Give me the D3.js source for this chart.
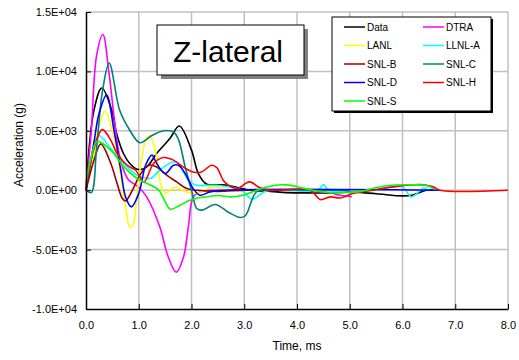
<!DOCTYPE html>
<html><head><meta charset="utf-8">
<script src="https://cdn.jsdelivr.net/npm/d3@7"></script>
<style>body{margin:0;background:#fff}svg{display:block}</style>
</head><body>
<svg id="chart" width="519" height="360"></svg>
<script>
// ---- data (time in ms, acceleration in g) ----
const seriesNames = ["Data","DTRA","LANL","LLNL-A","SNL-B","SNL-C","SNL-D","SNL-H","SNL-S"];
const seriesColors = ["#000000","#ff00ff","#ffff00","#00ffff","#990000","#008080","#0000ff","#ff0000","#00ff00"];

const dataTime  = [0,0.15,0.3,0.49,0.58,0.71,0.83,0.99,1.15,1.34,1.59,1.77,2.0,2.13,2.29,2.6,2.9,3.1,3.5,3.8,4.3,4.6,5.0,5.5,6.0,6.2,6.45,6.6];
const dataAccel = [0,6700,8600,6700,4770,3090,2250,1740,1960,3090,4350,5400,3370,1400,500,450,200,0,-100,-200,-230,-230,-150,-300,-480,-400,0,0];

const dtraTime  = [0,0.1,0.2,0.32,0.44,0.55,0.65,0.8,1.0,1.15,1.4,1.55,1.71,1.85,1.94,2.03,2.16,2.4,3.0,4.0,4.6,4.8,5.04];
const dtraAccel = [0,5000,11300,13100,9700,5500,2600,900,250,-560,-3100,-5500,-6900,-5600,-3100,-600,-140,0,0,0,-200,-400,-550];

const lanlTime  = [0,0.15,0.25,0.36,0.53,0.66,0.75,0.83,0.9,0.96,1.06,1.15,1.22,1.32,1.43,1.52,1.65,1.72,1.9,2.1,2.4,2.7,3.2];
const lanlAccel = [0,3000,5500,6650,4500,1120,-1400,-3140,-2800,-600,2800,4400,4550,3200,300,-250,200,200,-140,-250,280,0,0];

const llnlTime  = [0,0.1,0.24,0.47,0.72,0.97,1.1,1.23,1.4,1.66,1.78,1.94,2.1,2.35,2.73,2.95,3.15,3.4,3.7,4.4,4.5,4.6,5.5,5.8,6.0,6.17,6.4,6.5];
const llnlAccel = [0,2500,4600,3510,2250,1260,1050,1000,1680,2390,2100,840,420,420,280,0,-750,-100,0,0,480,0,0,280,280,-560,170,0];

const snlbTime  = [0,0.15,0.28,0.47,0.59,0.69,0.75,0.88,1.04,1.19,1.34,1.53,1.72,1.91,2.1,2.5,3.0,3.5];
const snlbAccel = [0,2500,3900,2250,560,-700,-900,0,1400,2100,1960,1260,700,140,0,-100,0,0];

const snlcTime  = [0,0.1,0.2,0.31,0.44,0.64,0.83,1.02,1.25,1.47,1.66,1.75,1.88,2.0,2.1,2.2,2.45,2.7,2.92,3.02,3.24,3.5,5.0];
const snlcAccel = [0,-200,3500,8280,10700,6700,5050,4000,4600,5000,4900,4300,1960,0,-1540,-1680,-1200,-1850,-2300,-2150,-100,0,0];

const snldTime  = [0,0.15,0.25,0.39,0.53,0.66,0.75,0.86,1.0,1.13,1.25,1.34,1.5,1.66,1.75,1.88,2.03,2.16,2.35,2.6,6.7];
const snldAccel = [0,4000,6500,8000,5050,1680,-560,-1400,-280,2100,2950,2250,1400,2100,2100,1400,140,-420,-140,0,0];

const snlhTime  = [0,0.15,0.31,0.47,0.59,0.78,0.94,1.1,1.28,1.47,1.66,1.84,2.03,2.19,2.38,2.48,2.6,2.7,2.86,3.1,3.3,3.5,4.25,4.44,4.63,4.82,5.06,5.5,5.82,6.33,6.58,6.71,8.0];
const snlhAccel = [0,3500,5100,4200,3090,2100,1680,700,2250,2750,2530,1960,1540,1540,2100,1900,840,420,140,700,200,0,0,-790,-560,-650,-280,60,280,480,280,0,0];

const snlsTime  = [0,0.1,0.21,0.47,0.72,0.97,1.23,1.38,1.47,1.6,1.78,1.97,2.16,2.3,2.5,2.75,2.95,3.24,3.49,3.8,4.06,4.3,4.6,5.0,5.2,5.51,5.8,6.2,6.45,6.6];
const snlsAccel = [600,2800,4100,3370,1960,980,420,0,-700,-1600,-1260,-840,-620,-550,-450,-560,-450,0,340,450,230,0,-200,-200,-100,230,420,450,400,100];

const xTicks = [0,1,2,3,4,5,6,7,8];
const xTickLabels = ["0.0","1.0","2.0","3.0","4.0","5.0","6.0","7.0","8.0"];
const yTicks = [-10000,-5000,0,5000,10000,15000];
const yTickLabels = ["-1.0E+04","-5.0E+03","0.0E+00","5.0E+03","1.0E+04","1.5E+04"];

const titleText = "Z-lateral";
const xTitle = "Time, ms";
const yTitle = "Acceleration (g)";

// ---- build ----
const timeArrays = [dataTime,dtraTime,lanlTime,llnlTime,snlbTime,snlcTime,snldTime,snlhTime,snlsTime];
const accelArrays = [dataAccel,dtraAccel,lanlAccel,llnlAccel,snlbAccel,snlcAccel,snldAccel,snlhAccel,snlsAccel];
const series = seriesNames.map((n,i)=>({name:n,color:seriesColors[i],
  pts: timeArrays[i].map((t,j)=>[t,accelArrays[i][j]])}));

const FONT = "Arial, 'Liberation Sans', sans-serif";
const svg = d3.select("#chart");
svg.append("rect").attr("width",519).attr("height",360).attr("fill","#fff");

const x = d3.scaleLinear().domain([0,8]).range([86,508]);
const y = d3.scaleLinear().domain([-10000,15000]).range([309,12]);

// gridlines
const grid = svg.append("g").attr("stroke","#c0c0c0").attr("stroke-width",1.5);
grid.selectAll("line.v").data(xTicks.slice(1)).join("line")
  .attr("x1",d=>x(d)).attr("x2",d=>x(d)).attr("y1",y(15000)).attr("y2",y(-10000));
grid.selectAll("line.h").data(yTicks.slice(1)).join("line")
  .attr("x1",x(0)).attr("x2",x(8)).attr("y1",d=>y(d)).attr("y2",d=>y(d));

// lines
const line = d3.line().x(d=>x(d[0])).y(d=>y(d[1])).curve(d3.curveCatmullRom.alpha(0.5));
const plot = svg.append("g");
plot.selectAll("path").data(series).join("path")
  .attr("d",d=>line(d.pts)).attr("fill","none")
  .attr("stroke",d=>d.color).attr("stroke-width",1.6).attr("stroke-linejoin","round");

// axes
const yAxis = d3.axisLeft(y).tickValues(yTicks).tickFormat((d,i)=>yTickLabels[i])
  .tickSizeInner(-5).tickSizeOuter(0).tickPadding(9);
const gy = svg.append("g").attr("transform",`translate(${x(0)},0)`).call(yAxis);
const xAxis = d3.axisBottom(x).tickValues(xTicks).tickFormat((d,i)=>xTickLabels[i])
  .tickSizeInner(-5).tickSizeOuter(0).tickPadding(12);
const gx = svg.append("g").attr("transform",`translate(0,${y(-10000)})`).call(xAxis);
[gx,gy].forEach(g=>{
  g.select(".domain").attr("stroke","#000").attr("stroke-width",1.5);
  g.selectAll(".tick line").attr("stroke","#000").attr("stroke-width",1);
  g.selectAll(".tick text").attr("font-family",FONT).attr("font-size",11).attr("fill","#000");
});

// axis titles
svg.append("text").attr("x",297).attr("y",350).attr("text-anchor","middle")
  .attr("font-family",FONT).attr("font-size",12).text(xTitle);
svg.append("text").attr("transform","translate(23,145) rotate(-90)").attr("text-anchor","middle")
  .attr("font-family",FONT).attr("font-size",12).text(yTitle);

// title box
svg.append("rect").attr("x",161).attr("y",29).attr("width",147).attr("height",50).attr("fill","#808080");
svg.append("rect").attr("x",157).attr("y",25).attr("width",147).attr("height",50).attr("fill","#fff").attr("stroke","#000").attr("stroke-width",1);
svg.append("text").attr("x",228).attr("y",62).attr("text-anchor","middle")
  .attr("font-family",FONT).attr("font-size",30).text(titleText);

// legend
svg.append("rect").attr("x",334).attr("y",19).attr("width",159).attr("height",94).attr("fill","#000");
svg.append("rect").attr("x",332).attr("y",17).attr("width",159).attr("height",94).attr("fill","#fff").attr("stroke","#000").attr("stroke-width",1);
const leg = svg.append("g").selectAll("g").data(series).join("g")
  .attr("transform",(d,i)=>`translate(${i%2===0?344:423},${27+Math.floor(i/2)*18.5})`);
leg.append("line").attr("x1",0).attr("x2",21).attr("y1",0).attr("y2",0)
  .attr("stroke",d=>d.color).attr("stroke-width",1.5);
leg.append("text").attr("x",23).attr("y",3.5).attr("font-family",FONT).attr("font-size",10).text(d=>d.name);
</script>
</body></html>
